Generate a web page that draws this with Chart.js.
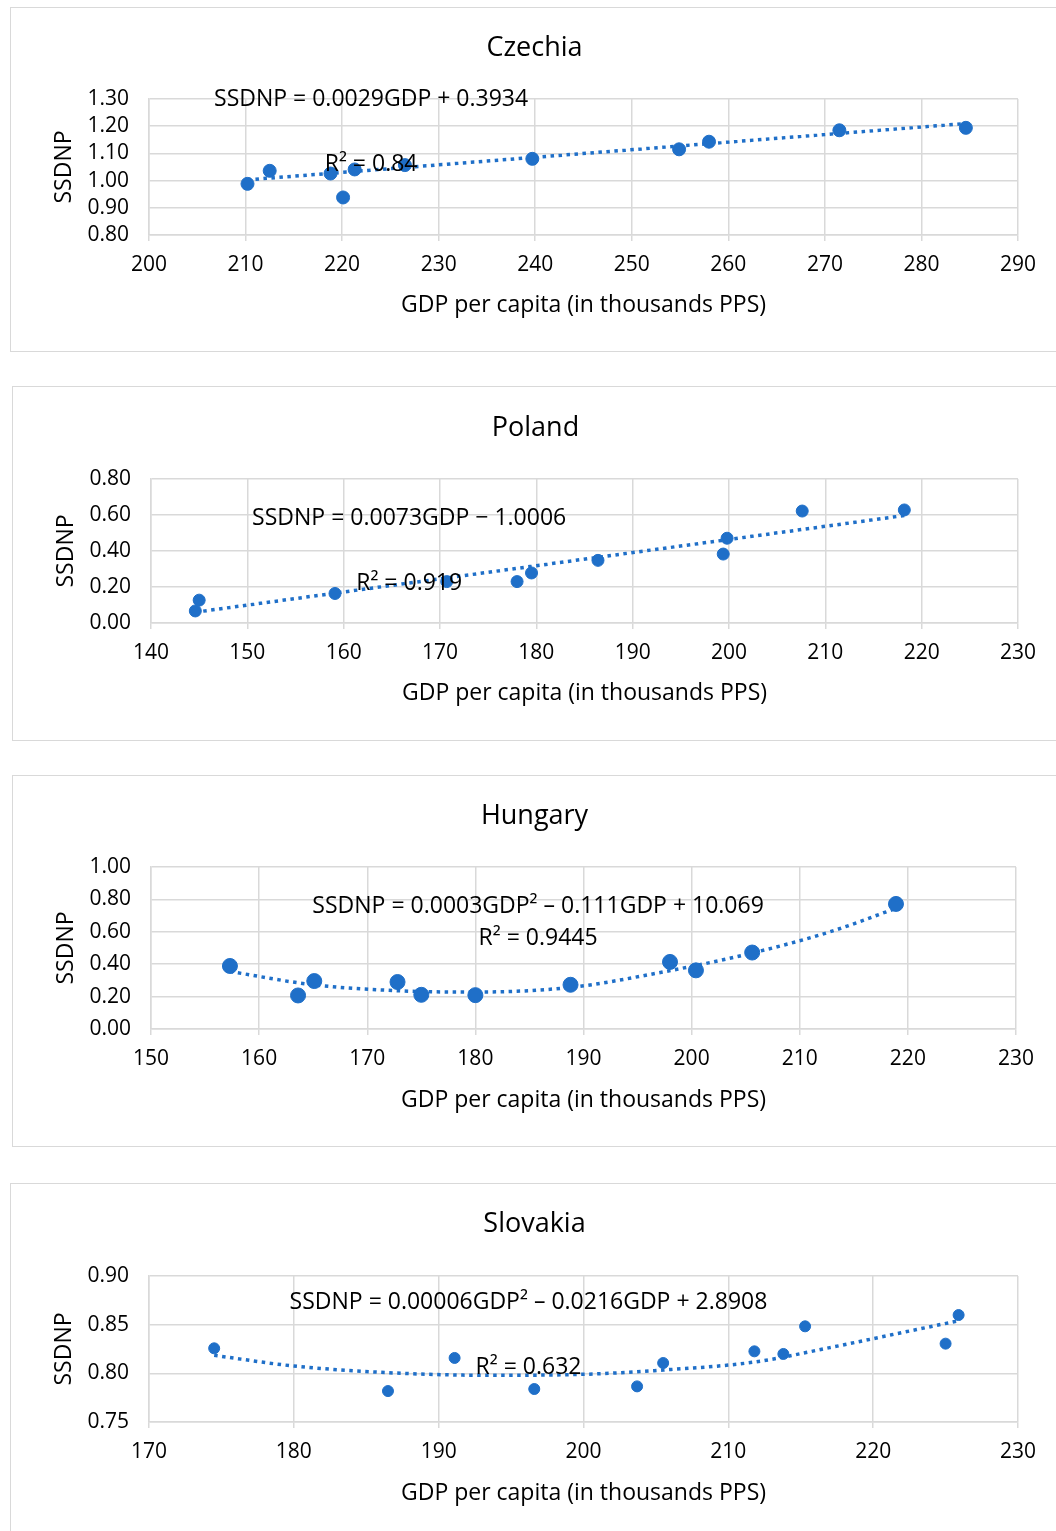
<!DOCTYPE html>
<html>
<head>
<meta charset="utf-8">
<script src="https://cdn.jsdelivr.net/npm/chart.js@4.4.1/dist/chart.umd.min.js"></script>
<style>
  html, body { margin: 0; padding: 0; background: #fff; }
  body { width: 1056px; height: 1531px; overflow: hidden; position: relative; }
  .panel { position: absolute; border: 1.5px solid #d9d9d9; background: #fff; box-sizing: border-box; }
  .panel canvas { position: absolute; left: 0; top: 0; }
</style>
</head>
<body>
<div class="panel" id="p1"><canvas id="c1"></canvas></div>
<div class="panel" id="p2"><canvas id="c2"></canvas></div>
<div class="panel" id="p3"><canvas id="c3"></canvas></div>
<div class="panel" id="p4"><canvas id="c4"></canvas></div>
<script>
// ---- data ----
const czGdp   = [210.2, 212.5, 218.8, 220.1, 221.3, 226.5, 239.7, 254.9, 258.0, 271.5, 284.6];
const czSsdnp = [0.988, 1.036, 1.026, 0.938, 1.041, 1.057, 1.080, 1.115, 1.143, 1.185, 1.194];
const czTrendGdp   = [210.2, 284.6];
const czTrendSsdnp = [1.003, 1.210];

const plGdp   = [144.6, 145.0, 159.1, 170.7, 178.0, 179.5, 186.4, 199.4, 199.8, 207.6, 218.2];
const plSsdnp = [0.067, 0.127, 0.164, 0.230, 0.230, 0.278, 0.348, 0.383, 0.471, 0.622, 0.628];
const plTrendGdp   = [144.6, 218.2];
const plTrendSsdnp = [0.060, 0.597];

const huGdp   = [157.3, 163.6, 165.1, 172.8, 175.0, 180.0, 188.8, 198.0, 200.4, 205.6, 218.9];
const huSsdnp = [0.389, 0.207, 0.296, 0.290, 0.211, 0.209, 0.273, 0.414, 0.362, 0.472, 0.772];
const huTrendGdp   = [157.3, 165.0, 172.9, 180.0, 188.8, 196.8, 205.6, 212.8, 218.9];
const huTrendSsdnp = [0.355, 0.273, 0.236, 0.228, 0.257, 0.345, 0.469, 0.600, 0.745];

const skGdp   = [174.5, 186.5, 191.1, 196.6, 203.7, 205.5, 211.8, 213.8, 215.3, 225.0, 225.9];
const skSsdnp = [0.8257, 0.7818, 0.8158, 0.7839, 0.7866, 0.8106, 0.8226, 0.8199, 0.8483, 0.8305, 0.8599];
const skTrendGdp   = [174.5, 180.0, 186.5, 193.2, 200.0, 205.5, 211.8, 217.0, 222.2, 225.9];
const skTrendSsdnp = [0.8185, 0.8075, 0.8007, 0.7980, 0.7990, 0.8034, 0.8116, 0.8264, 0.8425, 0.8540];

// tick labels
const czXTicks = [200, 210, 220, 230, 240, 250, 260, 270, 280, 290];
const czYTicks = [0.80, 0.90, 1.00, 1.10, 1.20, 1.30];
const plXTicks = [140, 150, 160, 170, 180, 190, 200, 210, 220, 230];
const plYTicks = [0.00, 0.20, 0.40, 0.60, 0.80];
const huXTicks = [150, 160, 170, 180, 190, 200, 210, 220, 230];
const huYTicks = [0.00, 0.20, 0.40, 0.60, 0.80, 1.00];
const skXTicks = [170, 180, 190, 200, 210, 220, 230];
const skYTicks = [0.75, 0.80, 0.85, 0.90];

const BLUE = '#1f6fc8';
const GRID = '#d9d9d9';
const FONT = "'Open Sans', sans-serif";
const TITLE_SIZE = 27, TICK_SIZE = 21, AXIS_SIZE = 23, EQ_SIZE = 23;

// draws the trendline equation texts, placed through the chart's scales
const eqPlugin = {
  id: 'eqLabels',
  afterDatasetsDraw(chart, args, opts) {
    const ctx = chart.ctx;
    const xs = chart.scales.x, ys = chart.scales.y;
    ctx.save();
    ctx.font = EQ_SIZE + 'px ' + FONT;
    ctx.fillStyle = '#000';
    ctx.textAlign = 'center';
    ctx.textBaseline = 'middle';
    opts.lines.forEach(l => {
      ctx.fillText(l.text, xs.getPixelForValue(l.x), ys.getPixelForValue(l.y));
    });
    ctx.restore();
  }
};

function toPoints(xs, ys) {
  return xs.map((x, i) => ({ x: x, y: ys[i] }));
}

// box: panel rect (page px); plot: plot-area rect (page px); at: title / x-axis title centres (page px)
function makePanel(id, box, plot, at, title, gdp, ssdnp, tGdp, tSsdnp, xTicks, yTicks, radius, eq) {
  const panel = document.getElementById('p' + id);
  panel.style.left = box.left + 'px';
  panel.style.top = box.top + 'px';
  panel.style.width = box.width + 'px';
  panel.style.height = box.height + 'px';
  const canvas = document.getElementById('c' + id);
  const W = box.width, H = box.height;
  canvas.width = W; canvas.height = H;
  canvas.style.width = W + 'px'; canvas.style.height = H + 'px';

  const pl = plot.l - box.left, pt = plot.t - box.top, pr = plot.r - box.left, pb = plot.b - box.top;
  const padLeft = 40;
  const axisLine = AXIS_SIZE * 1.2;
  const padBottom = H - (at.xTitle - box.top) - axisLine / 2;
  const titleLine = TITLE_SIZE * 1.2;
  const titlePadTop = (at.title - box.top) - titleLine / 2;
  const titlePadBottom = pt - titlePadTop - titleLine;

  new Chart(canvas.getContext('2d'), {
    type: 'scatter',
    data: {
      datasets: [{
        label: 'SSDNP',
        data: toPoints(gdp, ssdnp),
        backgroundColor: BLUE,
        borderColor: BLUE,
        pointRadius: radius,
        pointHoverRadius: radius,
        order: 1
      }, {
        label: 'Trend',
        data: toPoints(tGdp, tSsdnp),
        showLine: true,
        borderColor: BLUE,
        borderWidth: 3.5,
        borderDash: [3.5, 4.5],
        pointRadius: 0,
        cubicInterpolationMode: 'monotone',
        order: 2
      }]
    },
    options: {
      responsive: false,
      animation: false,
      layout: { padding: { left: padLeft, right: W - pr, top: 0, bottom: padBottom } },
      plugins: {
        legend: { display: false },
        tooltip: { enabled: false },
        title: {
          display: true,
          text: title,
          color: '#000',
          font: { family: FONT, size: TITLE_SIZE, weight: 'normal', lineHeight: 1.2 },
          padding: { top: titlePadTop, bottom: titlePadBottom }
        },
        eqLabels: { lines: eq }
      },
      scales: {
        x: {
          type: 'linear',
          min: xTicks[0],
          max: xTicks[xTicks.length - 1],
          afterBuildTicks: s => { s.ticks = xTicks.map(v => ({ value: v })); },
          afterFit: s => { s.height = H - padBottom - pb; },
          grid: { color: GRID, lineWidth: 1.5, tickLength: 6, drawTicks: true },
          border: { color: GRID, width: 1.5 },
          ticks: { color: '#000', font: { family: FONT, size: TICK_SIZE }, padding: 11, maxRotation: 0,
                   autoSkip: false, callback: v => String(v) },
          title: { display: true, text: 'GDP per capita (in thousands PPS)', color: '#000',
                   font: { family: FONT, size: AXIS_SIZE, lineHeight: 1.2 }, padding: 0 }
        },
        y: {
          type: 'linear',
          min: yTicks[0],
          max: yTicks[yTicks.length - 1],
          afterBuildTicks: s => { s.ticks = yTicks.map(v => ({ value: v })); },
          afterFit: s => { s.width = pl - padLeft; },
          grid: { color: GRID, lineWidth: 1.5, drawTicks: false },
          border: { color: GRID, width: 1.5 },
          ticks: { color: '#000', font: { family: FONT, size: TICK_SIZE }, padding: 20,
                   autoSkip: false, callback: v => Number(v).toFixed(2) },
          title: { display: true, text: 'SSDNP', color: '#000',
                   font: { family: FONT, size: AXIS_SIZE, lineHeight: 1.2 }, padding: 0 }
        }
      }
    },
    plugins: [eqPlugin]
  });
}

makePanel(1, { left: 10, top: 7, width: 1060, height: 345 },
  { l: 148, t: 98, r: 1017, b: 234 }, { title: 47, xTitle: 304 }, 'Czechia',
  czGdp, czSsdnp, czTrendGdp, czTrendSsdnp, czXTicks, czYTicks, 6.5,
  [{ text: 'SSDNP = 0.0029GDP + 0.3934', x: 223.0, y: 1.30 },
   { text: 'R² = 0.84', x: 223.0, y: 1.061 }]);

makePanel(2, { left: 12, top: 386, width: 1060, height: 355 },
  { l: 150, t: 478, r: 1017, b: 622 }, { title: 427, xTitle: 692 }, 'Poland',
  plGdp, plSsdnp, plTrendGdp, plTrendSsdnp, plXTicks, plYTicks, 6,
  [{ text: 'SSDNP = 0.0073GDP − 1.0006', x: 166.8, y: 0.583 },
   { text: 'R² = 0.919', x: 166.8, y: 0.222 }]);

makePanel(3, { left: 12, top: 775, width: 1060, height: 372 },
  { l: 150, t: 866, r: 1015, b: 1028 }, { title: 815, xTitle: 1099 }, 'Hungary',
  huGdp, huSsdnp, huTrendGdp, huTrendSsdnp, huXTicks, huYTicks, 7.5,
  [{ text: 'SSDNP = 0.0003GDP² – 0.111GDP + 10.069', x: 185.8, y: 0.759 },
   { text: 'R² = 0.9445', x: 185.8, y: 0.556 }]);

makePanel(4, { left: 10, top: 1183, width: 1060, height: 362 },
  { l: 148, t: 1275, r: 1017, b: 1421 }, { title: 1223, xTitle: 1492 }, 'Slovakia',
  skGdp, skSsdnp, skTrendGdp, skTrendSsdnp, skXTicks, skYTicks, 5.5,
  [{ text: 'SSDNP = 0.00006GDP² – 0.0216GDP + 2.8908', x: 196.2, y: 0.873 },
   { text: 'R² = 0.632', x: 196.2, y: 0.8065 }]);
</script>
</body>
</html>
